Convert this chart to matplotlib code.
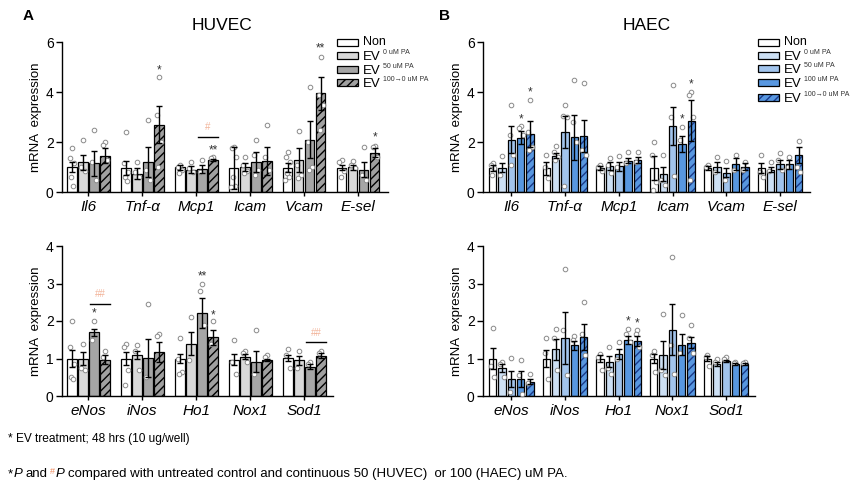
import matplotlib
matplotlib.use('Agg')
import matplotlib.pyplot as plt
import numpy as np
from matplotlib.patches import Rectangle

plt.rcParams['font.family'] = ['Liberation Sans', 'DejaVu Sans']
NARROW = ['Liberation Sans Narrow', 'Liberation Sans', 'DejaVu Sans']

# ---------------- data ----------------
top_genes = ['Il6', 'Tnf-α', 'Mcp1', 'Icam', 'Vcam', 'E-sel']
bot_genes = ['eNos', 'iNos', 'Ho1', 'Nox1', 'Sod1']
huvec_series = ['Non', 'EV 0 uM PA', 'EV 50 uM PA', 'EV 100→0 uM PA']
haec_series = ['Non', 'EV 0 uM PA', 'EV 50 uM PA', 'EV 100 uM PA', 'EV 100→0 uM PA']

huvec_top_mean = [[1.0, 1.2, 1.15, 1.45],
                  [0.97, 0.73, 1.2, 2.7],
                  [1.0, 0.9, 0.93, 1.28],
                  [0.97, 1.0, 1.2, 1.25],
                  [0.97, 1.28, 2.1, 3.95],
                  [0.97, 1.0, 0.9, 1.58]]
huvec_top_sem = [[0.2, 0.3, 0.5, 0.3],
                 [0.28, 0.22, 0.6, 0.75],
                 [0.1, 0.15, 0.15, 0.04],
                 [0.83, 0.15, 0.4, 0.55],
                 [0.18, 0.47, 0.75, 0.65],
                 [0.1, 0.1, 0.3, 0.17]]
huvec_top_pts = [[[1.75, 1.35, 1.15, 0.62, 0.23], [2.1, 1.0, 0.85], [2.5, 1.2, 0.5], [2.0, 1.9, 1.3]],
                 [[2.4, 1.15, 0.8, 0.6, 0.45], [1.2, 0.8, 0.6], [2.9, 0.9, 0.5], [4.6, 3.1, 2.0, 1.0]],
                 [[1.1, 1.0, 0.9, 0.75], [1.2, 0.95, 0.8], [1.3, 0.8], [1.4, 1.35]],
                 [[1.8, 1.75, 1.4, 0.6, 0.25, 0.2], [1.4, 1.1, 0.85, 0.75], [2.1, 1.5, 0.9, 0.7], [2.7, 1.4, 0.9]],
                 [[1.6, 1.4, 1.2, 0.75, 0.6, 0.5], [2.45, 1.1, 0.7, 0.55], [4.2, 2.0, 1.0, 0.9], [5.4, 3.9, 3.5, 2.5]],
                 [[1.3, 1.2, 0.85, 0.6], [1.25, 1.1, 0.95], [1.8, 0.7, 0.5], [1.85, 1.8, 1.4]]]
huvec_top_stars = [(1, 3, '*', 4.85), (2, 3, '**', 1.68), (4, 3, '**', 5.75), (5, 3, '*', 2.2)]
huvec_top_hash = [(2, '#', 2.22)]

haec_top_mean = [[0.97, 0.97, 2.1, 2.18, 2.32],
                 [0.95, 1.45, 2.4, 2.2, 2.25],
                 [0.97, 1.05, 1.03, 1.25, 1.28],
                 [0.97, 0.72, 2.65, 1.93, 2.85],
                 [0.97, 1.0, 0.77, 1.13, 1.02],
                 [0.95, 0.9, 1.12, 1.12, 1.48]]
haec_top_sem = [[0.13, 0.18, 0.55, 0.27, 0.53],
                [0.25, 0.1, 0.65, 0.9, 0.65],
                [0.08, 0.15, 0.17, 0.1, 0.12],
                [0.48, 0.28, 0.75, 0.32, 0.82],
                [0.08, 0.2, 0.18, 0.25, 0.13],
                [0.2, 0.1, 0.18, 0.18, 0.32]]
haec_top_pts = [[[1.15, 1.1, 0.95, 0.7], [1.45, 0.7], [3.5, 2.3, 1.5, 1.1], [2.65, 2.55, 2.3], [3.7, 2.4, 1.8, 1.7]],
                [[1.5, 1.0, 0.55], [1.85, 1.6, 1.4, 1.3], [3.5, 3.05, 3.0, 0.25], [4.5, 2.8, 2.0], [4.35, 1.7, 1.5]],
                [[1.1, 1.0, 0.85], [1.35, 1.1, 0.75], [1.45, 1.0], [1.6, 1.15], [1.6, 1.2]],
                [[2.0, 1.5, 0.4, 0.1], [1.5, 0.5, 0.3], [4.3, 3.0, 0.65], [2.6, 2.1], [4.0, 3.9, 3.0, 0.5]],
                [[1.1, 1.0], [1.4, 0.8], [1.25, 0.5], [1.5, 0.9], [1.2, 0.9]],
                [[1.5, 0.8, 0.6], [1.2, 0.85], [1.55, 1.3, 0.9], [1.4, 1.0], [2.05, 1.0, 0.8]]]
haec_top_stars = [(0, 3, '*', 2.9), (0, 4, '*', 4.0), (3, 3, '*', 2.9), (3, 4, '*', 4.3)]

huvec_bot_mean = [[1.0, 1.0, 1.7, 0.97],
                  [1.0, 1.1, 1.02, 1.18],
                  [1.0, 1.4, 2.22, 1.57],
                  [0.97, 1.05, 0.92, 0.97],
                  [1.02, 0.95, 0.78, 1.08]]
huvec_bot_sem = [[0.22, 0.17, 0.1, 0.12],
                 [0.17, 0.1, 0.5, 0.27],
                 [0.12, 0.3, 0.4, 0.2],
                 [0.15, 0.07, 0.28, 0.03],
                 [0.08, 0.12, 0.07, 0.07]]
huvec_bot_pts = [[[2.0, 1.3, 0.85, 0.5, 0.45], [1.4, 0.75, 0.7], [2.0, 1.5], [1.2, 1.05]],
                 [[1.4, 1.3, 0.7, 0.3], [1.35, 1.2, 0.7], [2.45, 0.5], [1.65, 1.6]],
                 [[1.55, 1.0, 0.65, 0.6], [2.1, 0.95], [3.0, 2.8, 1.9], [2.0, 1.4]],
                 [[1.5, 0.9, 0.6], [1.2, 1.15, 0.9], [1.75, 0.6], [1.1, 1.05]],
                 [[1.25, 1.1, 0.75], [1.2, 0.75], [0.9, 0.85], [1.2, 1.15]]]
huvec_bot_stars = [(0, 2, '*', 2.2), (2, 2, '**', 3.2), (2, 3, '*', 2.15)]
huvec_bot_hash = [(0, '##', 2.45), (4, '##', 1.43)]

haec_bot_mean = [[1.0, 0.75, 0.45, 0.45, 0.38],
                 [1.0, 1.25, 1.55, 1.35, 1.58],
                 [1.0, 0.92, 1.12, 1.5, 1.47],
                 [1.0, 1.1, 1.77, 1.37, 1.42],
                 [1.0, 0.85, 0.93, 0.85, 0.85]]
haec_bot_sem = [[0.28, 0.1, 0.22, 0.22, 0.07],
                [0.22, 0.28, 0.7, 0.12, 0.34],
                [0.1, 0.15, 0.13, 0.1, 0.13],
                [0.12, 0.37, 0.68, 0.28, 0.15],
                [0.07, 0.05, 0.03, 0.03, 0.03]]
haec_bot_pts = [[[1.82, 0.8, 0.5], [0.9, 0.85, 0.5], [1.02, 0.1], [0.97, 0.55, 0.05], [0.6, 0.35]],
                [[1.55, 1.15, 0.45], [1.8, 1.55, 0.7], [3.4, 1.75, 0.55], [1.6, 1.5], [2.5, 1.65, 1.1]],
                [[1.12, 1.05, 0.7], [1.3, 0.75, 0.6], [1.45, 1.0], [1.78, 1.65, 1.45], [1.75, 1.65, 1.3]],
                [[1.2, 1.1, 0.65], [2.2, 0.7, 0.55], [3.72, 1.35, 0.6], [2.17, 1.15], [1.9, 1.55, 1.15]],
                [[1.1, 1.05, 0.8], [1.0, 0.9], [1.05, 1.0], [0.92, 0.88], [0.92, 0.88]]]
haec_bot_stars = [(2, 3, '*', 2.0), (2, 4, '*', 1.93)]

huvec_colors = ['white', '#d9d9d9', '#a6a6a6', '#a0a0a0']
huvec_hatch = [False, False, False, True]
haec_colors = ['white', '#cde0f4', '#a2c4ec', '#5897e0', '#5897e0']
haec_hatch = [False, False, False, False, True]

# ---------------- figure ----------------
W, H = 859, 491
fig = plt.figure(figsize=(W / 100, H / 100), dpi=100)


def px_axes(l, r, top, bot):
    return fig.add_axes([l / W, 1 - bot / H, (r - l) / W, (bot - top) / H])


OFFS = [0.0, -0.24, 0.24, -0.12, 0.12, -0.3]
HASH_COLOR = '#f2b49a'


def draw_panel(ax, genes, means, sems, pts, colors, hatches, hatch_color,
               width, G, xlim, ylim, yticks, stars, hashes=()):
    ns = len(colors)
    for g in range(len(genes)):
        for s in range(ns):
            x = g * G + s
            m = means[g][s]
            if hatches[s]:
                ax.bar(x, m, width, color=colors[s], edgecolor=hatch_color,
                       linewidth=0, hatch='////', zorder=2)
                ax.bar(x, m, width, fill=False, edgecolor='black',
                       linewidth=0.9, zorder=2.5)
            else:
                ax.bar(x, m, width, color=colors[s], edgecolor='black',
                       linewidth=0.9, zorder=2)
            p = pts[g][s]
            xo = [x + OFFS[i % len(OFFS)] * width for i in range(len(p))]
            ax.scatter(xo, p, s=11, facecolor='white', edgecolor='#8a8a8a',
                       linewidth=0.7, zorder=3, clip_on=False)
            ax.errorbar(x, m, yerr=sems[g][s], color='black', capsize=2.5,
                        elinewidth=1.0, capthick=1.0, zorder=4)
    for g, s, txt, y in stars:
        ax.text(g * G + s, y, txt, ha='center', va='center', fontsize=8.5,
                color='#333333', zorder=5)
    for g, txt, y in hashes:
        x0 = g * G + 2 - 0.35
        x1 = g * G + 3 + 0.45
        ax.plot([x0, x1], [y, y], color='black', lw=1.0, zorder=5)
        ax.text((x0 + x1) / 2, y + (ylim[1] - ylim[0]) * 0.065, txt,
                ha='center', va='center', fontsize=7, color=HASH_COLOR, zorder=5)
    ax.set_xlim(*xlim)
    ax.set_ylim(*ylim)
    ax.set_yticks(yticks)
    ax.set_xticks([g * G + (ns - 1) / 2 for g in range(len(genes))])
    ax.set_xticklabels(genes, fontstyle='italic', fontsize=11)
    ax.spines['top'].set_visible(False)
    ax.spines['right'].set_visible(False)
    for sp in ('left', 'bottom'):
        ax.spines[sp].set_linewidth(1.0)
    ax.tick_params(axis='y', direction='out', length=4, width=1, labelsize=10, pad=2)
    ax.tick_params(axis='x', direction='out', length=3, width=1, pad=3)
    for lbl in ax.get_yticklabels():
        lbl.set_family(NARROW)


HU_G, HU_W = 4.9, 0.85
HA_G, HA_W = 5.75, 0.79

axA1 = px_axes(62, 388, 42, 192)
draw_panel(axA1, top_genes, huvec_top_mean, huvec_top_sem, huvec_top_pts,
           huvec_colors, huvec_hatch, 'black', HU_W, HU_G, (-0.9, 28.7), (0, 6),
           [0, 2, 4, 6], huvec_top_stars, huvec_top_hash)
axA2 = px_axes(62, 333, 246, 396)
draw_panel(axA2, bot_genes, huvec_bot_mean, huvec_bot_sem, huvec_bot_pts,
           huvec_colors, huvec_hatch, 'black', HU_W, HU_G, (-0.9, 23.7), (0, 4),
           [0, 1, 2, 3, 4], huvec_bot_stars, huvec_bot_hash)
axB1 = px_axes(483, 810, 42, 192)
draw_panel(axB1, top_genes, haec_top_mean, haec_top_sem, haec_top_pts,
           haec_colors, haec_hatch, '#1a3a8a', HA_W, HA_G, (-1.04, 33.96), (0, 6),
           [0, 2, 4, 6], haec_top_stars)
axB2 = px_axes(483, 755, 246, 396)
draw_panel(axB2, bot_genes, haec_bot_mean, haec_bot_sem, haec_bot_pts,
           haec_colors, haec_hatch, '#1a3a8a', HA_W, HA_G, (-1.04, 28.1), (0, 4),
           [0, 1, 2, 3, 4], haec_bot_stars)

# overlay axes in pixel coordinates for annotations
ax0 = fig.add_axes([0, 0, 1, 1])
ax0.set_xlim(0, W)
ax0.set_ylim(H, 0)
ax0.axis('off')
ax0.set_zorder(10)

# y labels
for xl, yc in [(36, 117), (36, 321), (457, 117), (457, 321)]:
    ax0.text(xl, yc, 'mRNA  expression', rotation=90, ha='center', va='center',
             fontsize=9.5)

# titles and panel letters
ax0.text(222, 25, 'HUVEC', ha='center', va='center', fontsize=12.5)
ax0.text(647, 25, 'HAEC', ha='center', va='center', fontsize=12.5)
ax0.text(28, 16, 'A', ha='center', va='center', fontsize=11, fontweight='bold')
ax0.text(444, 16, 'B', ha='center', va='center', fontsize=11, fontweight='bold')

# legends
renderer = fig.canvas.get_renderer()


def legend(x0, ys, series, colors, hatches, hatch_color):
    for y, name, c, h in zip(ys, series, colors, hatches):
        if h:
            ax0.add_patch(Rectangle((x0, y - 3.5), 21, 7, facecolor=c,
                                    edgecolor=hatch_color, lw=0, hatch='////'))
            ax0.add_patch(Rectangle((x0, y - 3.5), 21, 7, fill=False,
                                    edgecolor='black', lw=0.9))
        else:
            ax0.add_patch(Rectangle((x0, y - 3.5), 21, 7, facecolor=c,
                                    edgecolor='black', lw=0.9))
        if name == 'Non':
            ax0.text(x0 + 26, y, 'Non', ha='left', va='center', fontsize=9)
        else:
            main, sup = name.split(' ', 1)
            t = ax0.text(x0 + 26, y + 4.5, main, ha='left', va='baseline', fontsize=9.5)
            bb = t.get_window_extent(renderer)
            ax0.text(x0 + 26 + bb.width + 2, y - 3.0, sup, ha='left', va='center',
                     fontsize=5, family=NARROW, color='#333333')


legend(337, [42, 55.5, 69, 82.5], huvec_series, huvec_colors, huvec_hatch, 'black')
legend(758, [42, 55, 68.5, 82, 97], haec_series, haec_colors, haec_hatch, '#1a3a8a')

# footnotes
ax0.text(8, 442, '* EV treatment; 48 hrs (10 ug/well)', ha='left', va='baseline',
         fontsize=8.6, family=NARROW)

parts = [('*', 'normal', 'black', 9.5, 0),
         ('P', 'italic', 'black', 9.5, 3),
         ('and', 'normal', 'black', 9.5, 3),
         ('#', 'normal', '#f08a5d', 6.5, 1),
         ('P', 'italic', 'black', 9.5, 3),
         ('compared with untreated control and continuous 50 (HUVEC)  or 100 (HAEC) uM PA.',
          'normal', 'black', 9.5, 0)]
x = 8
yb = 477
for txt, style, col, fs, gap in parts:
    dy = -3 if txt == '#' else 0
    t = ax0.text(x, yb + dy, txt, ha='left', va='baseline', fontsize=fs,
                 fontstyle=style, color=col, family=NARROW)
    bb = t.get_window_extent(renderer)
    x += bb.width + gap

fig.savefig('out.png', dpi=100)
